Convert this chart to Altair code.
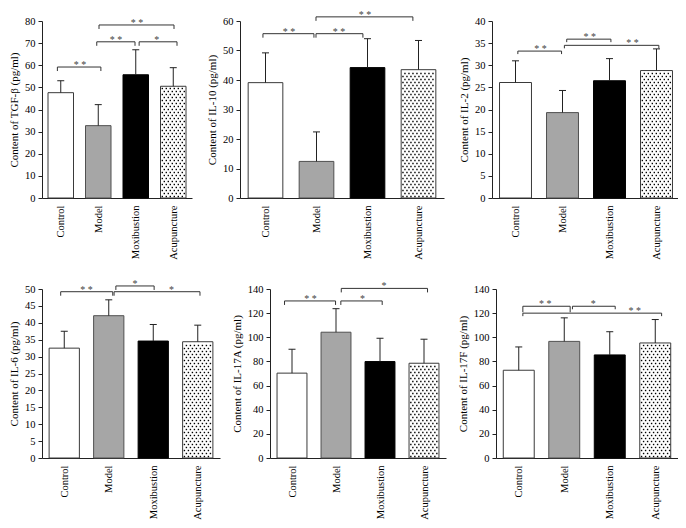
import json
import altair as alt
import pandas as pd

groups = ["Control", "Model", "Moxibustion", "Acupuncture"]
bar_fill = ["#ffffff", "#a6a6a6", "#000000", "#ffffff"]
bar_stroke = ["#3a3a3a", "#505050", "#000000", "#3a3a3a"]

titles = [
    "Content of TGF-β (pg/ml)",
    "Content of IL-10 (pg/ml)",
    "Content of IL-2 (pg/ml)",
    "Content of IL-6 (pg/ml)",
    "Content of IL-17A (pg/ml)",
    "Content of IL-17F (pg/ml)",
]

# means and SDs
tgf_mean = [47.6, 32.7, 55.7, 50.5]
tgf_sd = [5.4, 9.5, 11.3, 8.4]
il10_mean = [39.1, 12.4, 44.2, 43.5]
il10_sd = [10.1, 10.0, 9.8, 9.9]
il2_mean = [26.1, 19.3, 26.5, 28.8]
il2_sd = [4.9, 5.0, 5.0, 4.9]
il6_mean = [32.5, 42.1, 34.6, 34.4]
il6_sd = [5.0, 4.7, 4.9, 4.9]
il17a_mean = [70.3, 104.2, 79.9, 78.5]
il17a_sd = [19.8, 19.5, 19.3, 19.9]
il17f_mean = [72.7, 96.6, 85.4, 95.3]
il17f_sd = [19.3, 19.5, 19.2, 19.4]

means = [tgf_mean, il10_mean, il2_mean, il6_mean, il17a_mean, il17f_mean]
sds = [tgf_sd, il10_sd, il2_sd, il6_sd, il17a_sd, il17f_sd]

y_max = [80, 60, 40, 50, 140, 140]
y_step = [10, 10, 5, 5, 20, 20]

# significance brackets: start/end (group position), level, label, label position, leg length (px)
br_x1 = [[-0.09, 0.96, 2.09, 1.02], [-0.05, 0.99, 0.99], [0.05, 1.09, 1.04],
         [-0.08, 1.16, 1.12], [-0.17, 1.11, 1.12], [0.09, 1.18, 0.09]]
br_x2 = [[1.07, 1.98, 3.10, 3.02], [0.95, 1.91, 2.89], [0.98, 2.03, 3.05],
         [1.09, 2.02, 3.05], [0.99, 2.05, 3.08], [1.13, 2.12, 3.14]]
br_y = [[59.2, 70.6, 70.6, 78.2], [55.7, 55.7, 61.4], [33.2, 35.9, 34.5],
        [49.2, 50.9, 49.2], [130.1, 130.1, 140.5], [125.7, 125.7, 120.0]]
br_label = [["* *", "* *", "*", "* *"], ["* *", "* *", "* *"], ["* *", "* *", "* *"],
            ["* *", "*", "*"], ["* *", "*", "*"], ["* *", "*", "* *"]]
br_lx = [[0.51, 1.47, 2.56, 2.03], [0.46, 1.44, 1.95], [0.53, 1.58, 2.49],
         [0.50, 1.59, 2.41], [0.42, 1.60, 2.09], [0.58, 1.64, 2.55]]
br_leg = [[4, 4, 4, 4], [4, 4, 4], [3, 3, 3], [4, 4, 4], [4, 4, 4], [6, 3, 3]]

widths = [150, 204, 188, 178, 176, 182]
heights = [177, 177, 177, 169, 169, 169]

SERIF = "Liberation Serif"
HW = 0.34  # half bar width in group units
label_expr = json.dumps(groups) + "[datum.value]"


def panel(i):
    W, H, ymax = widths[i], heights[i], y_max[i]
    px_y = ymax / H            # data units per pixel (y)
    px_x = 4.0 / W             # group units per pixel (x)

    xs = alt.Scale(domain=[-0.5, 3.5], nice=False, zero=False)
    ys = alt.Scale(domain=[0, ymax], nice=False, zero=True)
    xaxis = alt.Axis(values=[0, 1, 2, 3], labelExpr=label_expr, title=None,
                     labelAngle=270, tickSize=0, ticks=False, labelPadding=7,
                     labelFontSize=10.5, grid=False)
    yaxis = alt.Axis(values=list(range(0, ymax + 1, y_step[i])), title=titles[i],
                     tickSize=4, labelPadding=3, titlePadding=5, grid=False,
                     labelFontSize=10.5, titleFontSize=11)

    def X(f):
        return alt.X(f, type="quantitative", scale=xs, axis=xaxis)

    def Y(f):
        return alt.Y(f, type="quantitative", scale=ys, axis=yaxis)

    df = pd.DataFrame({
        "idx": list(range(4)), "group": groups, "mean": means[i], "sd": sds[i],
        "fill": bar_fill, "stroke": bar_stroke,
    })
    cap = 3.5 * px_x
    base = alt.Chart(df).transform_calculate(
        xl=f"datum.idx - {HW}", xr=f"datum.idx + {HW}",
        top="datum.mean + datum.sd", base="0",
        cl=f"datum.idx - {cap}", cr=f"datum.idx + {cap}",
    )
    bars = base.mark_bar(strokeWidth=1).encode(
        x=X("xl"), x2=alt.X2("xr"), y=Y("mean"), y2=alt.Y2("base"),
        fill=alt.Fill("fill:N", scale=None), stroke=alt.Stroke("stroke:N", scale=None),
    )
    err = base.mark_rule(color="#222222", strokeWidth=1).encode(
        x=X("idx"), y=Y("mean"), y2=alt.Y2("top"))
    caps = base.mark_rule(color="#222222", strokeWidth=1).encode(
        x=X("cl"), x2=alt.X2("cr"), y=Y("top"))

    # dotted fill pattern for the Acupuncture bar
    acu = means[i][3]
    dxu = 4 * px_x
    dyu = 3 * px_y
    cols = 12
    rows = int(acu / dyu) + 2
    dots = alt.Chart(alt.sequence(0, rows * cols, as_="k")).transform_calculate(
        row=f"floor(datum.k / {cols})", col=f"datum.k % {cols}",
    ).transform_calculate(
        x=f"3 - {HW} + (datum.col + 0.45 + 0.5 * (datum.row % 2)) * {dxu}",
        y=f"(datum.row + 0.5) * {dyu}",
    ).transform_filter(
        f"datum.x < 3 + {HW} - {0.25 * dxu} && datum.y < {acu} - {0.4 * dyu}"
    ).mark_square(size=2, color="black", opacity=1).encode(x=X("x"), y=Y("y"))

    n = len(br_x1[i])
    bdf = pd.DataFrame({
        "x1": br_x1[i], "x2": br_x2[i], "y": br_y[i], "label": br_label[i],
        "lx": br_lx[i],
    })
    legs = []
    for j in range(n):
        drop = br_leg[i][j] * px_y
        for xv in (br_x1[i][j], br_x2[i][j]):
            legs.append({"x": xv, "y": br_y[i][j], "yb": br_y[i][j] - drop})
    ldf = pd.DataFrame(legs)
    hline = alt.Chart(bdf).mark_rule(color="#333333", strokeWidth=1).encode(
        x=X("x1"), x2=alt.X2("x2"), y=Y("y"))
    legl = alt.Chart(ldf).mark_rule(color="#333333", strokeWidth=1).encode(
        x=X("x"), y=Y("y"), y2=alt.Y2("yb"))
    stars = alt.Chart(bdf).mark_text(font=SERIF, fontSize=10, color="#444444",
                                     baseline="alphabetic", dy=1).encode(
        x=X("lx"), y=Y("y"), text="label:N")

    return alt.layer(bars, dots, err, caps, hline, legl, stars).properties(width=W, height=H)


row1 = alt.HConcatChart(hconcat=[panel(0), panel(1), panel(2)], spacing=48, bounds="flush")
row2 = alt.HConcatChart(hconcat=[panel(3), panel(4), panel(5)], spacing=50, bounds="flush")

chart = alt.VConcatChart(
    vconcat=[row1, row2], spacing=18, bounds="full",
).properties(
    autosize=alt.AutoSizeParams(type="none"),
    padding={"left": 34, "top": 13, "right": 636, "bottom": 499},
).configure_view(stroke=None).configure_axis(
    labelFont=SERIF, titleFont=SERIF, titleFontWeight="normal",
    labelColor="black", titleColor="black", domainColor="#222222",
    tickColor="#222222", grid=False,
)

chart.save("out.html", embed_options={"renderer": "svg", "actions": False})
